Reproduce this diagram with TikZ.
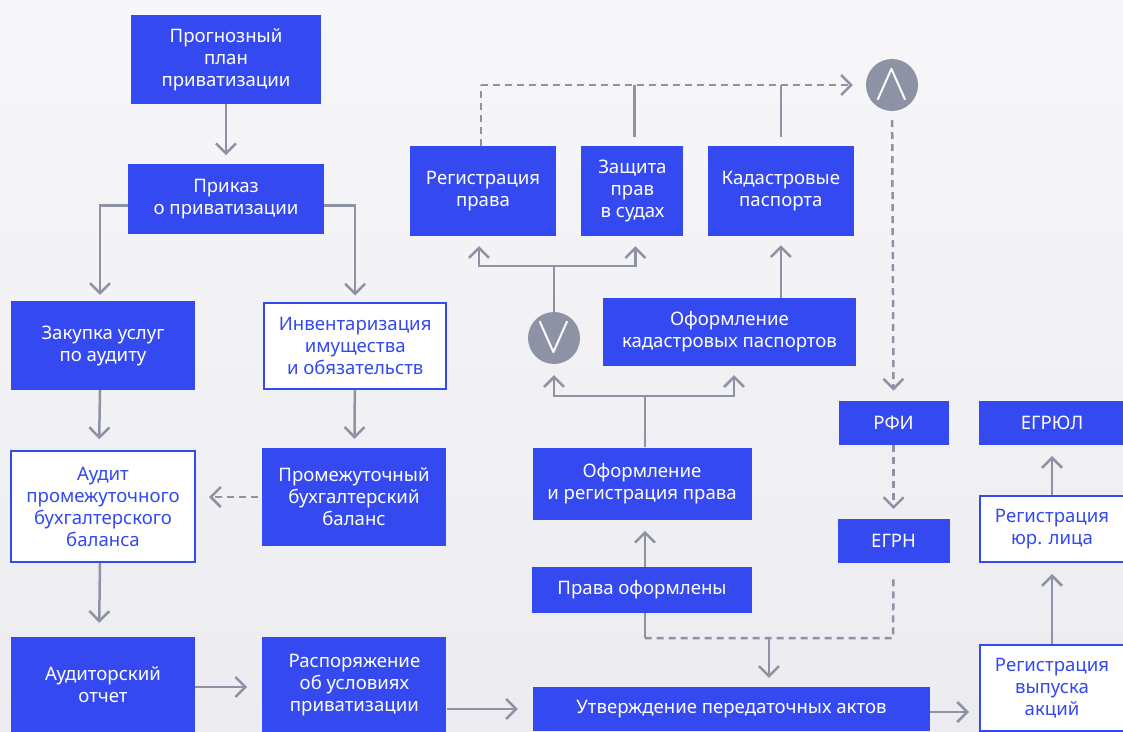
\documentclass[tikz,border=0pt]{standalone}
\usepackage{fontspec}
\setmainfont{Noto Sans}
\usepackage{xcolor}
\usepackage{graphicx}
\usetikzlibrary{positioning,arrows.meta,shapes.geometric}
\definecolor{boxblue}{RGB}{52,73,240}
\definecolor{linegray}{RGB}{142,146,165}
\definecolor{bgtop}{RGB}{247,247,249}
\definecolor{bgbottom}{RGB}{236,236,240}

\begin{document}
\begin{tikzpicture}[x=1pt, y=-1pt,
        main/.style = {rectangle, fill=boxblue, text=white, align=center, inner sep=0pt,
            font=\fontsize{18.6}{22}\selectfont},
        light/.style = {main, fill=white, draw=boxblue, line width=2pt, text=boxblue},
        gate/.style = {circle, fill=linegray, text=white, minimum size=52pt, inner sep=0pt},
        arr/.style = {draw=linegray, line width=2.5pt, -{Straight Barb[length=10pt, width=20pt, line width=2.5pt]}},
        line/.style = {draw=linegray, line width=2.5pt},
        dashline/.style = {line, dash pattern=on 7pt off 5pt}]
    \useasboundingbox (0,0) rectangle (1123,731);
    \fill[top color=bgtop, bottom color=bgbottom] (0,0) rectangle (1123,731);

    \node[main, minimum width=190pt, minimum height=89pt] (1) at (226,59.5) {Прогнозный\\план\\приватизации};
    \node[main, minimum width=196pt, minimum height=70pt] (2) [below=60pt of 1] {Приказ\\о приватизации};
    \node[main, minimum width=184pt, minimum height=89pt] (3) at (103,345.5) {Закупка услуг\\по аудиту};
    \node[light, minimum width=182pt, minimum height=86pt] (4) [right=68pt of 3] {Инвентаризация\\имущества\\и обязательств};
    \node[light, minimum width=184pt, minimum height=111pt] (5) [below=60pt of 3] {Аудит\\промежуточного\\бухгалтерского\\баланса};
    \node[main, minimum width=184pt, minimum height=98pt] (6) at (354,497) {Промежуточный\\бухгалтерский\\баланс};
    \node[main, minimum width=184pt, minimum height=96pt] (7) at (103,685) {Аудиторский\\отчет};
    \node[main, minimum width=184pt, minimum height=96pt] (8) [right=67pt of 7] {Распоряжение\\об условиях\\приватизации};
    \node[main, minimum width=397pt, minimum height=44pt] (9) at (731.5,709) {Утверждение передаточных актов};
    \node[light, minimum width=144pt, minimum height=86pt] (10) at (1052,688) {Регистрация\\выпуска\\акций};
    \node[light, minimum width=144pt, minimum height=66pt] (11) [above=81pt of 10] {Регистрация\\юр. лица};
    \node[main, minimum width=146pt, minimum height=44pt] (12) [above=50pt of 11] {ЕГРЮЛ};
    \node[main, minimum width=110pt, minimum height=44pt] (13) [left=30pt of 12] {РФИ};
    \node[main, minimum width=112pt, minimum height=44pt] (14) [below=74pt of 13] {ЕГРН};
    \node[main, minimum width=220pt, minimum height=46pt] (15) at (642,590) {Права оформлены};
    \node[main, minimum width=219pt, minimum height=72pt] (16) [above=47pt of 15] {Оформление\\и регистрация права};
    \node[main, minimum width=253pt, minimum height=68pt] (17) at (729.5,332) {Оформление\\кадастровых паспортов};
    \node[main, minimum width=146pt, minimum height=90pt] (18) at (483,191) {Регистрация\\права};
    \node[main, minimum width=102pt, minimum height=90pt] (19) [right=25pt of 18] {Защита\\прав\\в судах};
    \node[main, minimum width=146pt, minimum height=90pt] (20) [right=24pt of 19] {Кадастровые\\паспорта};
    \node[gate] (and) at (892,85) {\scalebox{2.1}{\Huge$\wedge$}};
    \node[gate] (or) at (554,338) {\scalebox{2.1}{\Huge$\vee$}};

    \coordinate (top) at (481,85);
    \coordinate (split) at (645,396);
    \coordinate (fork) at (554,266);
    \coordinate (merge) at (769,638);
    \coordinate (egrn) at (893,638);
    \coordinate (rights) at (645,638);

    \draw[arr, shorten >=9pt] (1) -- (2);
    \draw[arr, shorten >=6pt] ([yshift=-6pt]2.west) -| ([xshift=-3pt]3.north);
    \draw[arr, shorten >=6pt] ([yshift=-6pt]2.east) -| (4.north);
    \draw[arr, shorten >=11pt] ([xshift=-3pt]3.south) -- ([xshift=-4pt]5.north);
    \draw[arr, shorten >=9pt] (4) -- (6);
    \draw[arr, dashline, shorten <=4pt, shorten >=13pt] (6.west) -- (5.east |- 6.west);
    \draw[arr, shorten >=14pt] ([xshift=-3pt]5.south) -- ([xshift=-4pt]7.north);
    \draw[arr, shorten >=15pt] ([yshift=-2pt]7.east) -- ([yshift=-2pt]8.west);
    \draw[arr, shorten >=15pt] (8.east |- 9) -- (9.west);
    \draw[arr, shorten >=10pt] ([yshift=-3pt]9.east) -- ([yshift=-3pt]9.east -| 10.west);
    \draw[arr, shorten >=11pt] (10) -- (11);
    \draw[arr, shorten >=11pt] (11) -- (12);
    \draw[arr, shorten >=11pt] ([xshift=3pt]15.north) -- ([xshift=3pt]16.south);
    \draw[line] ([xshift=3pt]16.north) -- (split);
    \draw[arr, shorten >=11pt] (split) -| (or);
    \draw[arr, shorten >=9pt] (split) -| ([xshift=4.5pt]17.south);
    \draw[arr, shorten >=9pt] (17.north -| 20) -- (20);
    \draw[line] (or) -- (fork);
    \draw[arr, shorten >=10pt] (fork) -| ([xshift=-4pt]18.south);
    \draw[arr, shorten >=10pt] (fork) -| ([xshift=3pt]19.south);
    \draw[dashline] ([xshift=-2pt]18.north) -- (top);
    \draw[arr, dashline, shorten >=13pt] (top) -- (and);
    \draw[line, shorten <=9pt] ([xshift=2pt]19.north) -- ([xshift=2pt]19.north |- top);
    \draw[line, shorten <=9pt] (20.north) -- (20.north |- top);
    \draw[arr, dashline, shorten <=9pt, shorten >=10pt] (and) -- (13);
    \draw[arr, dashline, shorten >=10pt] (13) -- (14);
    \draw[dashline, shorten <=16pt] (14.south |- 14.south) -- (egrn) -- (rights);
    \draw[line] ([xshift=3pt]15.south) -- (rights);
    \draw[arr, shorten >=9pt] (merge) -- (merge |- 9.north);
\end{tikzpicture}
\end{document}
